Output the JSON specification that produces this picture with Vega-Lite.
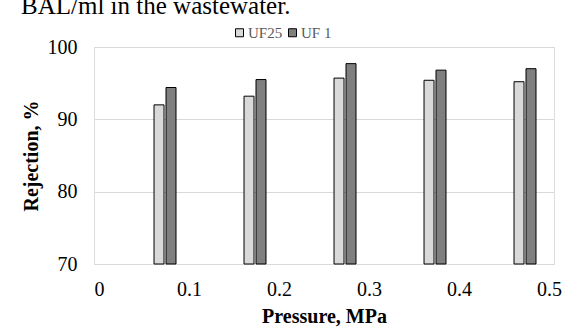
{
  "$schema": "https://vega.github.io/schema/vega-lite/v6.json",
  "width": 460,
  "height": 217,
  "autosize": "none",
  "padding": {"left": 94, "top": 47, "right": 27, "bottom": 67},
  "background": "white",
  "title": {
    "text": "BAL/ml in the wastewater.",
    "anchor": "start",
    "font": "Liberation Serif",
    "fontSize": 25,
    "fontWeight": "normal",
    "color": "black",
    "dx": 0,
    "dy": 29,
    "baseline": "alphabetic",
    "offset": 15
  },
  "data": {
    "values": [
      {"p": 0.0667, "series": "UF25", "r": 92.0},
      {"p": 0.08, "series": "UF 1", "r": 94.4},
      {"p": 0.1667, "series": "UF25", "r": 93.2},
      {"p": 0.18, "series": "UF 1", "r": 95.5},
      {"p": 0.2667, "series": "UF25", "r": 95.7},
      {"p": 0.28, "series": "UF 1", "r": 97.7},
      {"p": 0.3667, "series": "UF25", "r": 95.4},
      {"p": 0.38, "series": "UF 1", "r": 96.8},
      {"p": 0.4667, "series": "UF25", "r": 95.2},
      {"p": 0.48, "series": "UF 1", "r": 97.0}
    ]
  },
  "mark": {"type": "bar", "size": 10, "stroke": "black", "strokeWidth": 1},
  "encoding": {
    "x": {
      "field": "p",
      "type": "quantitative",
      "scale": {"domain": [0, 0.5], "nice": false},
      "axis": {
        "values": [0, 0.1, 0.2, 0.3, 0.4, 0.5],
        "format": "~g",
        "domain": false,
        "ticks": false,
        "grid": false,
        "labelFont": "Liberation Serif",
        "labelFontSize": 20,
        "labelColor": "black",
        "labelPadding": 15,
        "title": "Pressure, MPa",
        "titleFont": "Liberation Serif",
        "titleFontSize": 20,
        "titleFontWeight": "bold",
        "titleColor": "black",
        "titlePadding": 7
      }
    },
    "y": {
      "field": "r",
      "type": "quantitative",
      "scale": {"domain": [70, 100], "nice": false, "zero": false},
      "axis": {
        "values": [70, 80, 90, 100],
        "domain": false,
        "ticks": false,
        "grid": true,
        "gridColor": "#d9d9d9",
        "gridWidth": 1,
        "labelFont": "Liberation Serif",
        "labelFontSize": 20,
        "labelColor": "black",
        "labelPadding": 17,
        "title": "Rejection, %",
        "titleFont": "Liberation Serif",
        "titleFontSize": 20,
        "titleFontWeight": "bold",
        "titleColor": "black",
        "titlePadding": 6
      }
    },
    "y2": {"datum": 70},
    "color": {
      "field": "series",
      "type": "nominal",
      "scale": {"domain": ["UF25", "UF 1"], "range": ["#d9d9d9", "#7f7f7f"]},
      "legend": {
        "orient": "none",
        "legendX": 138,
        "legendY": -22,
        "direction": "horizontal",
        "title": null,
        "symbolType": "square",
        "symbolSize": 64,
        "symbolStrokeColor": "black",
        "symbolStrokeWidth": 1,
        "labelFont": "Liberation Serif",
        "labelFontSize": 15,
        "labelColor": "#595959",
        "labelOffset": 1,
        "columnPadding": 2
      }
    }
  }
}
